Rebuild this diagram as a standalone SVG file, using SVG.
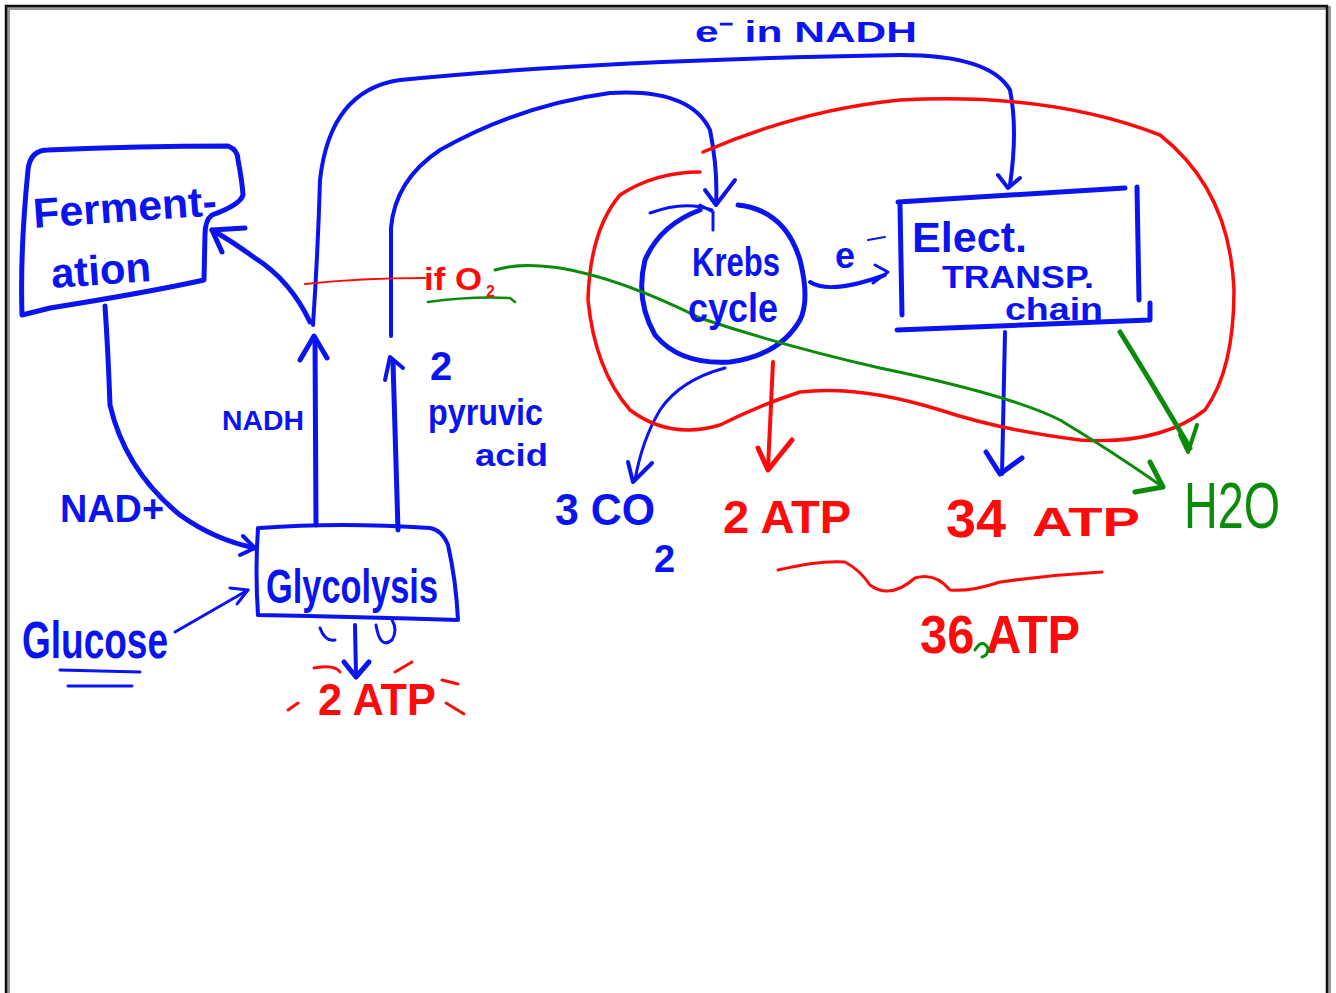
<svg xmlns="http://www.w3.org/2000/svg" width="1336" height="993" viewBox="0 0 1336 993">
<defs>
<style>
.b{fill:none;stroke:#0a14f0;stroke-linecap:round;stroke-linejoin:round}
.r{fill:none;stroke:#ff0a0a;stroke-linecap:round;stroke-linejoin:round}
.g{fill:none;stroke:#0a8c0a;stroke-linecap:round;stroke-linejoin:round}
.tb{fill:#0a14f0;font-family:"Liberation Sans",Arial,sans-serif;font-weight:bold}
.tr{fill:#ff0a0a;font-family:"Liberation Sans",Arial,sans-serif;font-weight:bold}
.tg{fill:#0a8c0a;font-family:"Liberation Sans",Arial,sans-serif}
</style>
</defs>
<rect width="1336" height="993" fill="#fff"/>
<g id="frame">
<path d="M8 993 V8 H1329 V993" fill="none" stroke="#999" stroke-width="4"/>
<path d="M6 993 V6 H1327 V993" fill="none" stroke="#111" stroke-width="2.5"/>
</g>

<g id="connectors">
<path class="b" stroke-width="5" d="M105 306 Q108 350 110 405 Q125 470 180 515 Q215 540 255 548"/>
<path class="b" stroke-width="4" d="M243 536 L255 548 L240 555"/>
<path class="b" stroke-width="3" d="M175 632 L248 590"/>
<path class="b" stroke-width="3" d="M230 588 L248 590 L237 604"/>
<path class="b" stroke-width="5" d="M316 525 L315 338"/>
<path class="b" stroke-width="5" d="M300 360 L314 336 L327 358"/>
<path class="b" stroke-width="5" d="M310 322 Q290 280 255 258 Q230 240 212 230"/>
<path class="b" stroke-width="5" d="M212 230 L245 228 M212 230 L222 252"/>
<path class="b" stroke-width="4" d="M313 325 Q318 250 320 180 Q330 90 400 80 Q600 60 900 55 Q990 55 1010 90 Q1018 130 1010 185"/>
<path class="b" stroke-width="4" d="M998 175 L1008 188 L1020 178"/>
<path class="b" stroke-width="5" d="M398 530 L393 362"/>
<path class="b" stroke-width="4" d="M385 380 L390 357 L403 368"/>
<path class="b" stroke-width="4" d="M391 336 L391 228 Q395 180 440 150 Q520 105 610 93 Q690 88 710 130 Q718 170 716 205"/>
<path class="b" stroke-width="4" d="M705 190 L716 205 L735 180"/>
<path class="b" stroke-width="5" d="M738 205 Q785 210 800 260 Q810 300 800 320 Q780 355 730 362 Q680 365 655 335 Q635 300 645 260 Q660 225 700 210"/>
<path class="b" stroke-width="3" d="M650 213 Q685 200 712 210 M700 205 L713 212 L713 230"/>
<path class="b" stroke-width="4" d="M810 282 Q830 295 885 275"/>
<path class="b" stroke-width="3" d="M875 265 L888 272 L873 283"/>
<path class="b" stroke-width="3" d="M725 368 Q680 380 660 410 Q642 440 635 480"/>
<path class="b" stroke-width="4" d="M628 462 L633 482 L652 463"/>
<path class="b" stroke-width="4" d="M1005 332 L1002 474"/>
<path class="b" stroke-width="5" d="M986 452 L1000 474 L1022 458"/>
<path class="b" stroke-width="4" d="M355 625 L356 675"/>
<path class="b" stroke-width="5" d="M344 662 L356 677 L369 662"/>
<path class="b" stroke-width="3" d="M320 628 Q325 642 335 640 M376 625 Q380 650 392 640 Q398 630 392 620"/>
<path class="r" stroke-width="4" d="M773 362 L768 468"/>
<path class="r" stroke-width="5" d="M758 448 L768 470 L792 440"/>
<path class="r" stroke-width="2" d="M305 284 Q360 278 425 278"/>
<path class="r" stroke-width="3.5" d="M703 152 Q800 110 900 100 Q1050 92 1160 135 Q1230 190 1234 290 Q1234 370 1205 410 Q1160 445 1080 440 Q1000 430 940 410 Q860 385 800 392 Q760 405 720 425 Q670 440 630 410 Q595 370 588 300 Q590 230 620 195 Q655 172 700 172"/>
<path class="r" stroke-width="3" d="M778 570 Q820 560 845 562 Q860 570 870 585 Q890 600 915 578 Q935 572 950 590 Q970 592 1000 582 Q1050 575 1102 572"/>
<path class="g" stroke-width="3" d="M495 270 Q520 262 560 268 Q620 278 700 318 Q780 345 880 368 Q1010 395 1060 420 Q1110 450 1163 487"/>
<path class="g" stroke-width="5" d="M1150 462 L1163 487 L1135 492"/>
<path class="g" stroke-width="5" d="M1120 332 Q1150 380 1190 448"/>
<path class="g" stroke-width="4" d="M1180 435 L1188 452 L1197 425"/>
<path class="g" stroke-width="2.5" d="M428 302 Q470 296 510 298 L515 302"/>
</g>

<g id="fermentation">
<path class="b" stroke-width="5" d="M28 170 Q30 150 48 150 Q140 146 228 146 Q238 150 238 160 Q242 180 243 195 Q240 205 212 215 Q205 220 205 235 L204 280 Q150 292 50 308 L22 315 Q20 250 28 170"/>
<text class="tb" x="34" y="228" font-size="42" transform="rotate(-4 34 228)" textLength="184" lengthAdjust="spacingAndGlyphs">Ferment-</text>
<text class="tb" x="52" y="288" font-size="42" transform="rotate(-4 52 288)" textLength="100" lengthAdjust="spacingAndGlyphs">ation</text>
</g>

<g id="glycolysis">
<path class="b" stroke-width="4" d="M260 528 Q340 522 430 528 Q442 530 448 545 Q456 580 458 620 Q360 617 258 615 Q255 570 258 528"/>
<text class="tb" x="266" y="603" font-size="48" textLength="172" lengthAdjust="spacingAndGlyphs">Glycolysis</text>
</g>

<g id="krebs">
<text class="tb" x="692" y="276" font-size="40" textLength="88" lengthAdjust="spacingAndGlyphs">Krebs</text>
<text class="tb" x="688" y="322" font-size="40" textLength="90" lengthAdjust="spacingAndGlyphs">cycle</text>
</g>

<g id="etc">
<path class="b" stroke-width="5" d="M898 202 Q1010 195 1125 188 M900 205 L902 315 M1137 187 L1139 300 M897 330 Q1020 325 1150 320 L1150 303"/>
<text class="tb" x="912" y="252" font-size="42" textLength="115" lengthAdjust="spacingAndGlyphs">Elect.</text>
<text class="tb" x="942" y="288" font-size="32" textLength="152" lengthAdjust="spacingAndGlyphs">TRANSP.</text>
<text class="tb" x="1005" y="320" font-size="32" textLength="98" lengthAdjust="spacingAndGlyphs">chain</text>
</g>

<g id="labels">
<text class="tb" x="695" y="42" font-size="30" textLength="222" lengthAdjust="spacingAndGlyphs">e⁻ in NADH</text>
<text class="tb" x="222" y="430" font-size="28" textLength="82" lengthAdjust="spacingAndGlyphs">NADH</text>
<text class="tb" x="60" y="522" font-size="38" textLength="104" lengthAdjust="spacingAndGlyphs">NAD+</text>
<text class="tb" x="22" y="658" font-size="52" textLength="146" lengthAdjust="spacingAndGlyphs">Glucose</text>
<path class="b" stroke-width="3" d="M60 670 L140 672 M68 686 L132 686"/>
<text class="tb" x="430" y="380" font-size="40">2</text>
<text class="tb" x="428" y="425" font-size="36" textLength="115" lengthAdjust="spacingAndGlyphs">pyruvic</text>
<text class="tb" x="475" y="466" font-size="32" textLength="73" lengthAdjust="spacingAndGlyphs">acid</text>
<text class="tr" x="424" y="290" font-size="32" textLength="58" lengthAdjust="spacingAndGlyphs">if O</text>
<text class="tr" x="486" y="297" font-size="16">2</text>
<text class="tb" x="835" y="268" font-size="36">e</text>
<path class="b" stroke-width="2" d="M868 240 L885 237"/>
<text class="tb" x="555" y="525" font-size="44" textLength="100" lengthAdjust="spacingAndGlyphs">3 CO</text>
<text class="tb" x="654" y="572" font-size="38">2</text>
<text class="tr" x="723" y="533" font-size="46" textLength="128" lengthAdjust="spacingAndGlyphs">2 ATP</text>
<text class="tr" x="946" y="537" font-size="54" textLength="60" lengthAdjust="spacingAndGlyphs">34</text>
<text class="tr" x="1032" y="536" font-size="40" textLength="108" lengthAdjust="spacingAndGlyphs">ATP</text>
<text class="tg" x="1184" y="528" font-size="64" textLength="96" lengthAdjust="spacingAndGlyphs">H2O</text>
<text class="tr" x="318" y="715" font-size="44" textLength="118" lengthAdjust="spacingAndGlyphs">2 ATP</text>
<path class="r" stroke-width="3" d="M288 710 L298 703 M314 668 Q335 664 340 672 M395 672 L412 662 M442 680 L458 684 M446 703 L464 714"/>
<text class="tr" x="920" y="653" font-size="54" textLength="160" lengthAdjust="spacingAndGlyphs">36 ATP</text>
<path class="g" stroke-width="3" d="M975 650 Q982 638 988 648 Q988 656 982 657"/>
</g>
</svg>
